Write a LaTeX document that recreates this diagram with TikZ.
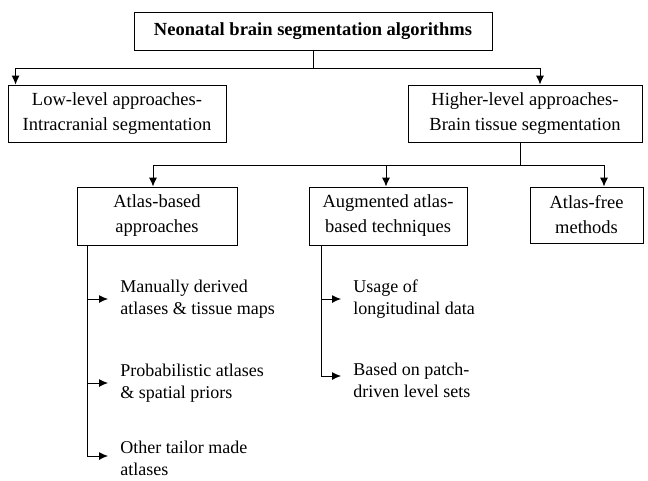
\documentclass[tikz,border=0pt]{standalone}
\usepackage{fontspec}
\setmainfont{Liberation Serif}
\usetikzlibrary{arrows.meta,positioning}
\tikzset{>={Latex[length=9pt,width=8pt]}}
\tikzstyle{block} = [draw,line width=0.9pt,align=center,inner sep=0pt,font=\fontsize{18.5}{25}\selectfont]
\tikzstyle{leaf} = [anchor=west,align=left,inner ysep=0pt,inner xsep=12pt,font=\fontsize{18}{22}\selectfont]

\begin{document}
\begin{tikzpicture}[x=1pt,y=-1pt,line width=0.9pt]
    \useasboundingbox (0,0) rectangle (648,480);
    % levels of the tree
    \node [block,minimum width=358,minimum height=38,font=\fontsize{18.5}{25}\selectfont\bfseries] (top) at (313,31) {Neonatal brain segmentation algorithms};
    \node [block,minimum width=218,minimum height=57] (low) at (117,113.5) {Low-level approaches-\\Intracranial segmentation};
    \node [block,minimum width=234,minimum height=57] (high) at (525,113.5) {Higher-level approaches-\\Brain tissue segmentation};
    \node [block,minimum width=160,minimum height=58] (atlas) at (157,216) {Atlas-based\\approaches};
    \node [block,minimum width=158,minimum height=58] (aug) at (388,216) {Augmented atlas-\\based techniques};
    \node [block,minimum width=113,minimum height=56] (free) at (586.5,215) {Atlas-free\\methods};

    \node [leaf] (manual) at (108,299) {Manually derived\\atlases \& tissue maps};
    \node [leaf] (prob) at (108,383) {Probabilistic atlases\\\& spatial priors};
    \node [leaf] (other) at (108,458) {Other tailor made\\atlases};
    \node [leaf] (long) at (341,299) {Usage of\\longitudinal data};
    \node [leaf] (patch) at (341,380) {Based on patch-\\driven level sets};

    \draw (top.south) -- ++(0,18) coordinate (j1);
    \draw [->] (j1) -| ([xshift=8pt]low.north west);
    \draw [->] (j1) -| ([xshift=15pt]high.north);

    \draw ([xshift=-5pt]high.south) -- ++(0,23) coordinate (j2);
    \draw [->] (j2) -| ([xshift=-4pt]atlas.north);
    \draw [->] (j2) -| ([xshift=-2pt]aug.north);
    \draw [->] (j2) -| ([xshift=17.5pt]free.north);

    \draw [->] ([xshift=11pt]atlas.south west) |- (manual.west);
    \draw [->] ([xshift=11pt]atlas.south west) |- (prob.west);
    \draw [->] ([xshift=11pt]atlas.south west) |- ([yshift=2pt]other.west);
    \draw [->] ([xshift=13pt]aug.south west) |- (long.west);
    \draw [->] ([xshift=13pt]aug.south west) |- ([yshift=4pt]patch.west);
  \end{tikzpicture}
\end{document}
